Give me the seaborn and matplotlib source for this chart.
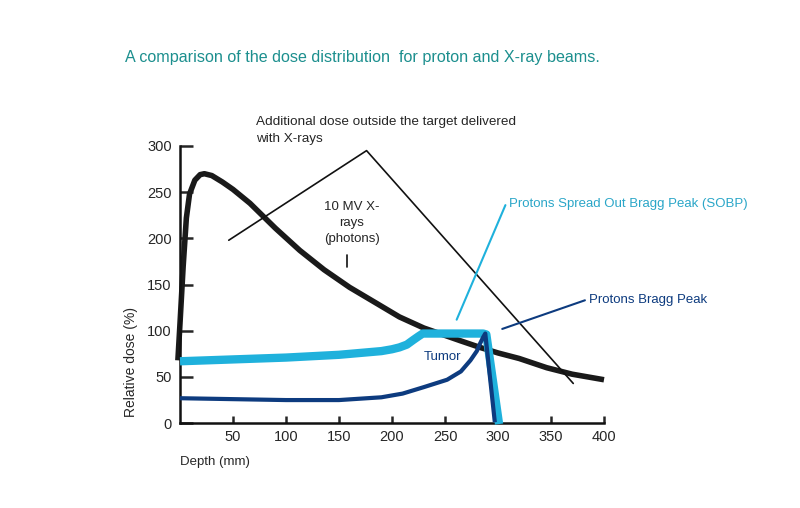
import seaborn as sns
import matplotlib.pyplot as plt

# data
xray_depth = [-2, 0, 3, 6, 9, 14, 19, 23, 30, 40, 50, 66, 90, 113, 136, 160, 185, 207,
              230, 250, 265, 283, 300, 320, 346, 370, 400]
xray_dose = [68, 108, 170, 222, 248, 263, 269, 270, 268, 261, 253, 238, 211, 187, 166,
             147, 130, 115, 103, 95, 89, 82, 76, 70, 60, 53, 47]

sobp_depth = [0, 50, 100, 150, 190, 200, 207, 214, 220, 225, 229, 240, 286, 289, 301]
sobp_dose = [67, 69, 71, 74, 78, 80, 82, 85, 90, 94, 97, 97, 97, 96, -1]

bragg_depth = [0, 50, 100, 150, 190, 210, 230, 252, 265, 274, 280, 283, 286, 288, 297]
bragg_dose = [27, 26, 25, 25, 28, 32, 39, 47, 56, 68, 78, 86, 93, 97, 1]

x_ticks = [50, 100, 150, 200, 250, 300, 350, 400]
y_ticks = [0, 50, 100, 150, 200, 250, 300]

sns.set_theme(style="ticks")
plt.rcParams['font.family'] = ['Liberation Sans', 'DejaVu Sans']

light_blue = "#1fb1dc"
dark_blue = "#0d3b7f"

fig = plt.figure(figsize=(8, 5.08), dpi=100)
ax = fig.add_axes([0.225, 0.167, 0.53, 0.5456])

line_kw = dict(sort=False, estimator=None, ax=ax, clip_on=False,
               solid_joinstyle="round", solid_capstyle="butt")
sns.lineplot(x=xray_depth, y=xray_dose, color="#1a1a1a", linewidth=4, zorder=2, **line_kw)
sns.lineplot(x=sobp_depth, y=sobp_dose, color=light_blue, linewidth=6, zorder=3, **line_kw)
sns.lineplot(x=bragg_depth, y=bragg_dose, color=dark_blue, linewidth=3, zorder=4, **line_kw)

ax.set_xlim(0, 400)
ax.set_ylim(0, 300)
ax.set_xticks(x_ticks)
ax.set_yticks(y_ticks)
ax.tick_params(axis="y", direction="in", length=9, width=1.8, labelsize=10.5, pad=6)
ax.tick_params(axis="x", direction="in", length=5, width=1.8, labelsize=10.5, pad=5)
for s in ["left", "bottom"]:
    ax.spines[s].set_linewidth(1.8)
    ax.spines[s].set_color("#111111")
sns.despine(ax=ax)

ax.set_xlabel("Depth (mm)", fontsize=9.5, ha="left")
ax.xaxis.set_label_coords(0.0, -0.12)
ax.set_ylabel("Relative dose (%)", fontsize=10)
ax.yaxis.set_label_coords(-0.1, 0.22)

# triangle showing additional x-ray dose
ax.plot([46, 176, 371], [198, 295, 43], color="#111111", linewidth=1.2, clip_on=False)
ax.text(72, 317, "Additional dose outside the target delivered\nwith X-rays",
        fontsize=9.7, ha="left", va="center", linespacing=1.55)

ax.text(162, 217, "10 MV X-\nrays\n(photons)", fontsize=9.5, ha="center", va="center",
        linespacing=1.45)
ax.plot([158, 158], [169, 182], color="#111111", linewidth=1.2)

ax.plot([261, 307], [112, 236], color=light_blue, linewidth=1.5, clip_on=False)
ax.text(310, 237, "Protons Spread Out Bragg Peak (SOBP)", fontsize=9.5,
        color="#2aa6c8", ha="left", va="center")

ax.plot([304, 382], [102, 133], color=dark_blue, linewidth=1.5, clip_on=False)
ax.text(386, 133, "Protons Bragg Peak", fontsize=9.5, color=dark_blue,
        ha="left", va="center")

ax.text(248, 72, "Tumor", fontsize=9.5, color=dark_blue, ha="center", va="center")

fig.text(0.156, 0.886, "A comparison of the dose distribution  for proton and X-ray beams.",
         fontsize=11.6, color="#1c8f8e", ha="left", va="center")

fig.savefig("out.png", dpi=100)
